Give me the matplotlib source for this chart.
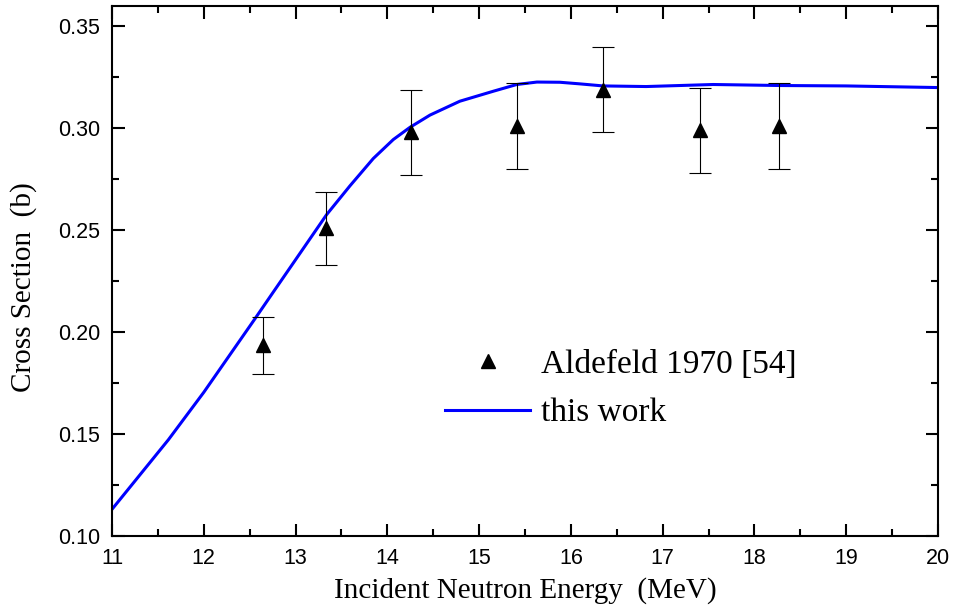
import matplotlib
matplotlib.use("Agg")
import matplotlib.pyplot as plt
from matplotlib.ticker import MultipleLocator
from matplotlib.lines import Line2D

# Experimental data (Aldefeld 1970 [54])
exp_energy = [12.642, 13.33, 14.26, 15.41, 16.35, 17.41, 18.27]
exp_xs = [0.1935, 0.251, 0.298, 0.301, 0.319, 0.299, 0.301]
exp_err = [0.014, 0.018, 0.021, 0.021, 0.021, 0.021, 0.021]

# Calculated curve (this work)
calc_energy = [11.0, 11.614, 12.0, 12.558, 12.75, 12.975, 13.212, 13.339, 13.593,
               13.847, 14.065, 14.247, 14.356, 14.465, 14.79, 15.155, 15.41, 15.63,
               15.88, 16.1, 16.35, 16.82, 17.55, 18.28, 19.0, 20.0]
calc_xs = [0.1131, 0.1472, 0.1705, 0.2066, 0.2192, 0.2339, 0.2494, 0.2577, 0.2718,
           0.2852, 0.2945, 0.3005, 0.3035, 0.3065, 0.3133, 0.3182, 0.3215, 0.3227,
           0.3226, 0.3218, 0.3208, 0.3205, 0.3215, 0.3210, 0.3208, 0.3200]

fig = plt.figure(figsize=(9.55, 6.15), dpi=100)
ax = fig.add_axes([0.1173, 0.1285, 0.9822 - 0.1173, 0.9902 - 0.1285])

ax.errorbar(exp_energy, exp_xs, yerr=exp_err, fmt='^', color='black',
            markersize=10, ecolor='black', elinewidth=0.8, capsize=8,
            capthick=0.8, zorder=3)
ax.plot(calc_energy, calc_xs, color='#0000ff', lw=2.2, zorder=2,
        solid_joinstyle='round')

ax.set_xlim(11, 20)
ax.set_ylim(0.10, 0.36)
ax.xaxis.set_major_locator(MultipleLocator(1))
ax.xaxis.set_minor_locator(MultipleLocator(0.5))
ax.yaxis.set_major_locator(MultipleLocator(0.05))
ax.yaxis.set_minor_locator(MultipleLocator(0.025))
ax.yaxis.set_major_formatter(plt.FuncFormatter(lambda v, p: f"{v:.2f}"))

for s in ax.spines.values():
    s.set_linewidth(1.5)
ax.tick_params(which='both', direction='in', top=True, right=True, width=1.5,
               labelsize=15.5, labelfontfamily='Liberation Sans')
ax.tick_params(which='major', length=9)
ax.tick_params(which='minor', length=5)
ax.tick_params(axis='x', pad=8.5)
ax.tick_params(axis='y', pad=8.5)

ax.set_xlabel('Incident Neutron Energy  (MeV)', family='Liberation Serif', fontsize=21)
ax.set_ylabel('Cross Section  (b)', family='Liberation Serif', fontsize=21)
ax.xaxis.set_label_coords(0.5, -0.077)
ax.yaxis.set_label_coords(-0.091, 0.47)

handles = [Line2D([], [], marker='^', ls='none', color='black', markersize=10),
           Line2D([], [], color='#0000ff', lw=2.2)]
labels = ['Aldefeld 1970 [54]', 'this work']
leg = ax.legend(handles, labels, loc='upper left',
                bbox_to_anchor=(445 / 955, 1 - 349.5 / 615), bbox_transform=fig.transFigure,
                frameon=False, borderpad=0, borderaxespad=0, handlelength=2.55,
                handletextpad=0.33, labelspacing=0.54,
                prop={'family': 'Liberation Serif', 'size': 24})

fig.savefig('out.png', dpi=100)
